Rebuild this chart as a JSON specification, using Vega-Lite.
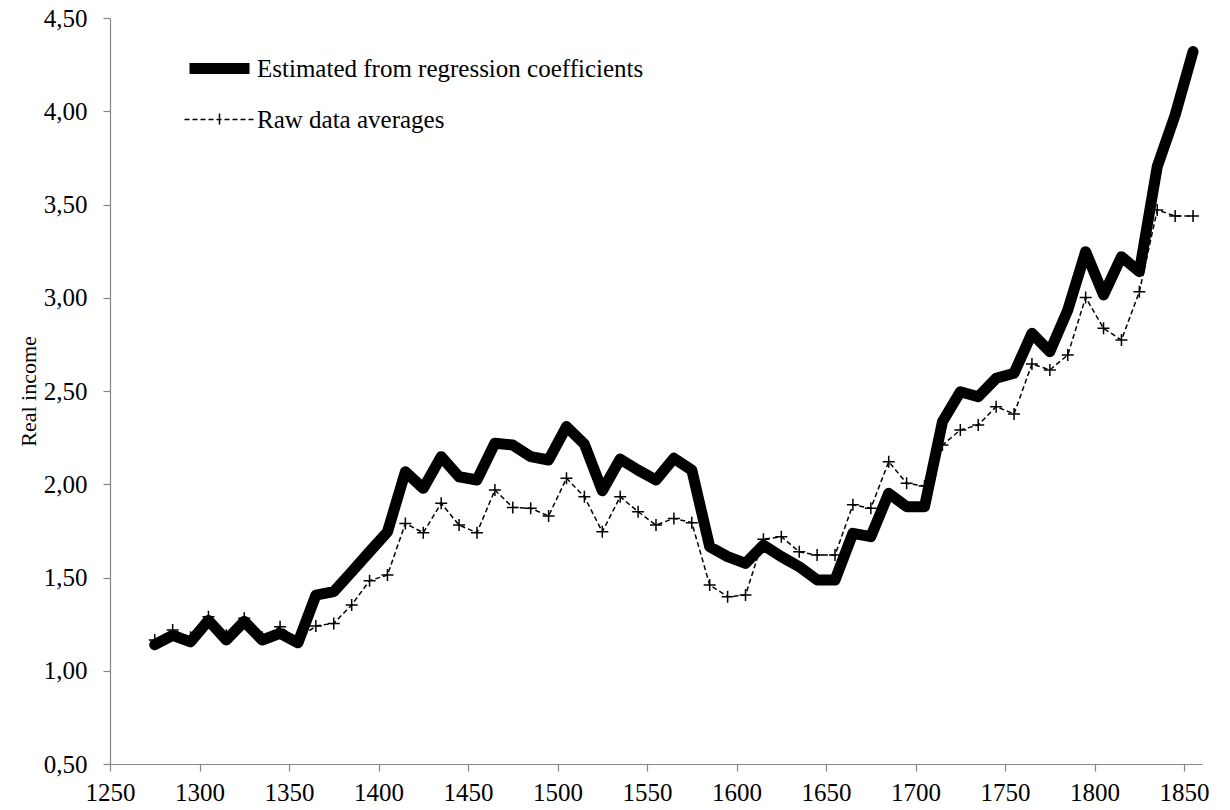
{
  "$schema": "https://vega.github.io/schema/vega-lite/v6.json",
  "width": 1092,
  "height": 746,
  "autosize": {"type": "none"},
  "padding": {"left": 110, "top": 18, "right": 28, "bottom": 46},
  "background": "white",
  "config": {"view": {"stroke": null}, "font": "Liberation Serif"},
  "datasets": {
    "income": [
      {"year": 1275, "est": 1.14, "raw": 1.165},
      {"year": 1285, "est": 1.19, "raw": 1.218},
      {"year": 1295, "est": 1.155, "raw": 1.18},
      {"year": 1305, "est": 1.27, "raw": 1.29},
      {"year": 1315, "est": 1.165, "raw": 1.19},
      {"year": 1325, "est": 1.265, "raw": 1.281},
      {"year": 1335, "est": 1.165, "raw": 1.18},
      {"year": 1345, "est": 1.2, "raw": 1.236},
      {"year": 1355, "est": 1.15, "raw": 1.17},
      {"year": 1365, "est": 1.405, "raw": 1.24},
      {"year": 1375, "est": 1.424, "raw": 1.254},
      {"year": 1385, "est": 1.53, "raw": 1.353},
      {"year": 1395, "est": 1.638, "raw": 1.483},
      {"year": 1405, "est": 1.745, "raw": 1.513},
      {"year": 1415, "est": 2.067, "raw": 1.79},
      {"year": 1425, "est": 1.978, "raw": 1.74},
      {"year": 1435, "est": 2.148, "raw": 1.898},
      {"year": 1445, "est": 2.04, "raw": 1.781},
      {"year": 1455, "est": 2.023, "raw": 1.74},
      {"year": 1465, "est": 2.22, "raw": 1.969},
      {"year": 1475, "est": 2.21, "raw": 1.876},
      {"year": 1485, "est": 2.148, "raw": 1.871},
      {"year": 1495, "est": 2.13, "raw": 1.83},
      {"year": 1505, "est": 2.309, "raw": 2.032},
      {"year": 1515, "est": 2.215, "raw": 1.933},
      {"year": 1525, "est": 1.965, "raw": 1.745},
      {"year": 1535, "est": 2.135, "raw": 1.933},
      {"year": 1545, "est": 2.076, "raw": 1.853},
      {"year": 1555, "est": 2.023, "raw": 1.781},
      {"year": 1565, "est": 2.139, "raw": 1.817},
      {"year": 1575, "est": 2.076, "raw": 1.794},
      {"year": 1585, "est": 1.665, "raw": 1.46},
      {"year": 1595, "est": 1.612, "raw": 1.397},
      {"year": 1605, "est": 1.576, "raw": 1.406},
      {"year": 1615, "est": 1.674, "raw": 1.705},
      {"year": 1625, "est": 1.612, "raw": 1.719},
      {"year": 1635, "est": 1.558, "raw": 1.638},
      {"year": 1645, "est": 1.487, "raw": 1.62},
      {"year": 1655, "est": 1.487, "raw": 1.62},
      {"year": 1665, "est": 1.737, "raw": 1.89},
      {"year": 1675, "est": 1.719, "raw": 1.871},
      {"year": 1685, "est": 1.951, "raw": 2.121},
      {"year": 1695, "est": 1.88, "raw": 2.005},
      {"year": 1705, "est": 1.88, "raw": 1.99},
      {"year": 1715, "est": 2.335, "raw": 2.21},
      {"year": 1725, "est": 2.496, "raw": 2.291},
      {"year": 1735, "est": 2.469, "raw": 2.318},
      {"year": 1745, "est": 2.568, "raw": 2.416},
      {"year": 1755, "est": 2.595, "raw": 2.377},
      {"year": 1765, "est": 2.809, "raw": 2.645},
      {"year": 1775, "est": 2.711, "raw": 2.613},
      {"year": 1785, "est": 2.934, "raw": 2.693},
      {"year": 1795, "est": 3.247, "raw": 3.002},
      {"year": 1805, "est": 3.015, "raw": 2.836},
      {"year": 1815, "est": 3.22, "raw": 2.773},
      {"year": 1825, "est": 3.14, "raw": 3.032},
      {"year": 1835, "est": 3.703, "raw": 3.471},
      {"year": 1845, "est": 3.98, "raw": 3.438},
      {"year": 1855, "est": 4.32, "raw": 3.438}
    ]
  },
  "layer": [
    {
      "data": {"name": "income"},
      "mark": {"type": "line", "color": "black", "strokeWidth": 1.5, "strokeDash": [5, 3]},
      "encoding": {
        "x": {
          "field": "year", "type": "quantitative",
          "scale": {"domain": [1250, 1860], "nice": false, "zero": false},
          "axis": {
            "title": null,
            "values": [1250, 1300, 1350, 1400, 1450, 1500, 1550, 1600, 1650, 1700, 1750, 1800, 1850],
            "format": "d",
            "grid": false,
            "labelFont": "Liberation Serif", "labelFontSize": 25, "labelColor": "black",
            "labelPadding": 9, "labelDx": 8, "labelFlush": false, "labelOverlap": false,
            "tickSize": 7, "tickColor": "#868686", "domainColor": "#868686", "domainWidth": 1.2, "tickWidth": 1.2
          }
        },
        "y": {
          "field": "raw", "type": "quantitative", "title": "Real income",
          "scale": {"domain": [0.5, 4.5], "nice": false, "zero": false},
          "axis": {
            "title": "Real income",
            "values": [0.5, 1, 1.5, 2, 2.5, 3, 3.5, 4, 4.5],
            "labelExpr": "replace(format(datum.value, '.2f'), '.', ',')",
            "grid": false,
            "labelFont": "Liberation Serif", "labelFontSize": 25, "labelColor": "black",
            "labelPadding": 16,
            "tickSize": 7, "tickColor": "#868686", "domainColor": "#868686", "domainWidth": 1.2, "tickWidth": 1.2,
            "titleFont": "Liberation Serif", "titleFontSize": 22, "titleFontWeight": "normal", "titleColor": "black",
            "titlePadding": 3
          }
        }
      }
    },
    {
      "data": {"name": "income"},
      "mark": {"type": "point", "shape": "M-1,0L1,0M0,-1L0,1", "size": 144, "filled": false, "stroke": "black", "strokeWidth": 1.5, "opacity": 1},
      "encoding": {
        "x": {"field": "year", "type": "quantitative"},
        "y": {"field": "raw", "type": "quantitative", "title": "Real income"}
      }
    },
    {
      "data": {"name": "income"},
      "mark": {"type": "line", "color": "black", "strokeWidth": 11, "strokeCap": "round", "strokeJoin": "round"},
      "encoding": {
        "x": {"field": "year", "type": "quantitative"},
        "y": {"field": "est", "type": "quantitative", "title": "Real income"}
      }
    },
    {
      "data": {"values": []},
      "mark": {"type": "point", "filled": false, "opacity": 1},
      "encoding": {
        "shape": {
          "field": "series", "type": "nominal",
          "scale": {
            "domain": ["Estimated from regression coefficients", "Raw data averages"],
            "range": ["M-3,0L3,0", "M-3.5,0L3.5,0M0,-0.6L0,0M0,0L0,0.6"]
          },
          "legend": {
            "orient": "none", "legendX": 94, "legendY": 35,
            "title": null, "padding": 0,
            "labelFont": "Liberation Serif", "labelFontSize": 25, "labelColor": "black",
            "labelOffset": 22, "labelLimit": 1000,
            "symbolSize": 400, "rowPadding": 16,
            "encode": {"symbols": {"update": {"strokeCap": {"value": "round"}}}}
          }
        },
        "strokeWidth": {
          "field": "series", "type": "ordinal",
          "scale": {
            "domain": ["Estimated from regression coefficients", "Raw data averages"],
            "range": [11, 1.5]
          }
        },
        "strokeDash": {
          "field": "series", "type": "nominal",
          "scale": {
            "domain": ["Estimated from regression coefficients", "Raw data averages"],
            "range": [[1, 0], [5, 3]]
          }
        },
        "color": {
          "field": "series", "type": "nominal",
          "scale": {
            "domain": ["Estimated from regression coefficients", "Raw data averages"],
            "range": ["black", "black"]
          }
        }
      }
    }
  ]
}
